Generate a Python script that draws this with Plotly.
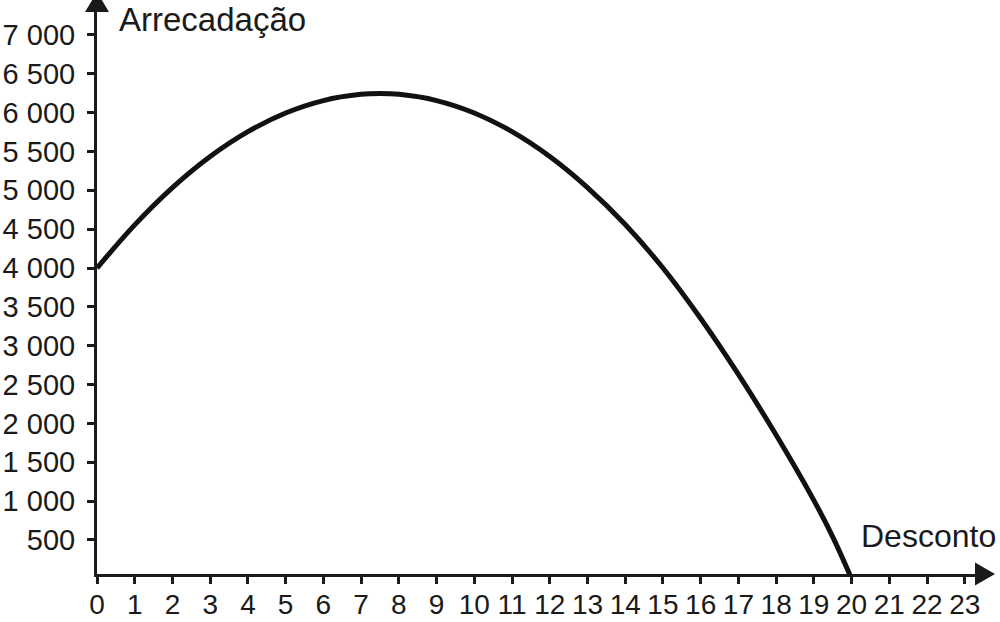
import plotly.graph_objects as go

# Data
desconto = [0, 1, 2, 3, 4, 5, 6, 7, 7.5, 8, 9, 10, 11, 12, 13, 14, 15, 16, 17, 18, 19, 19.5, 20]
arrecadacao = [4000, 4555, 5035, 5435, 5755, 5995, 6155, 6235, 6245, 6235, 6155, 5995, 5755,
               5435, 5035, 4560, 4000, 3350, 2630, 1850, 1010, 540, 0]

x_ticks = list(range(0, 24))
x_tick_labels = [str(v) for v in x_ticks]
y_ticks = [500, 1000, 1500, 2000, 2500, 3000, 3500, 4000, 4500, 5000, 5500, 6000, 6500, 7000]
y_tick_labels = ["500", "1 000", "1 500", "2 000", "2 500", "3 000", "3 500", "4 000",
                 "4 500", "5 000", "5 500", "6 000", "6 500", "7 000"]

INK = "#1a1a1a"
FONT = "Liberation Sans, Arial, sans-serif"

W, H = 1000, 622
ML, MR, MT, MB = 97, 25, 12, 48
PW = W - ML - MR
PH = H - MT - MB

fig = go.Figure()
fig.add_trace(go.Scatter(
    x=desconto, y=arrecadacao, mode="lines",
    line=dict(color="#111111", width=5, shape="spline", smoothing=1.0),
    hoverinfo="skip", showlegend=False,
))

fig.update_layout(
    width=W, height=H,
    margin=dict(l=ML, r=MR, t=MT, b=MB, pad=0, autoexpand=False),
    paper_bgcolor="white", plot_bgcolor="white",
    font=dict(family=FONT, color=INK),
    showlegend=False,
    xaxis=dict(
        range=[0, PW / 37.73], showgrid=False, zeroline=False, automargin=False,
        showline=True, linecolor=INK, linewidth=3,
        ticks="outside", ticklen=7, tickwidth=2.5, tickcolor=INK,
        tickvals=x_ticks, ticktext=x_tick_labels,
        tickfont=dict(size=28, color=INK, family=FONT),
        ticklabelstandoff=-4,
    ),
    yaxis=dict(
        range=[62, 62 + PH / 0.0777], showgrid=False, zeroline=False, automargin=False,
        showline=True, linecolor=INK, linewidth=3,
        ticks="outside", ticklen=7, tickwidth=2.5, tickcolor=INK,
        tickvals=y_ticks, ticktext=y_tick_labels,
        tickfont=dict(size=29, color=INK, family=FONT),
        ticklabelstandoff=6,
    ),
)

# Arrowheads at axis ends
ax_len = 20 / PW
ax_half = 11.5 / PH
fig.add_shape(type="path", xref="paper", yref="paper",
              path=f"M 1 {-ax_half} L {1 + ax_len} 0 L 1 {ax_half} Z",
              fillcolor=INK, line=dict(width=0))
ay_len = 20 / PH
ay_half = 12 / PW
fig.add_shape(type="path", xref="paper", yref="paper",
              path=f"M {-ay_half} 1 L 0 {1 + ay_len} L {ay_half} 1 Z",
              fillcolor=INK, line=dict(width=0))

# Axis titles
fig.add_annotation(text="Arrecadação", xref="paper", yref="paper",
                   x=(117 - ML) / PW, y=(H - MB - 20) / PH,
                   xanchor="left", yanchor="middle", showarrow=False,
                   font=dict(size=33, color=INK, family=FONT))
fig.add_annotation(text="Desconto", xref="paper", yref="paper",
                   x=(998 - ML) / PW, y=(H - MB - 536) / PH,
                   xanchor="right", yanchor="middle", showarrow=False,
                   font=dict(size=32, color=INK, family=FONT))

fig.write_html("out.html")
